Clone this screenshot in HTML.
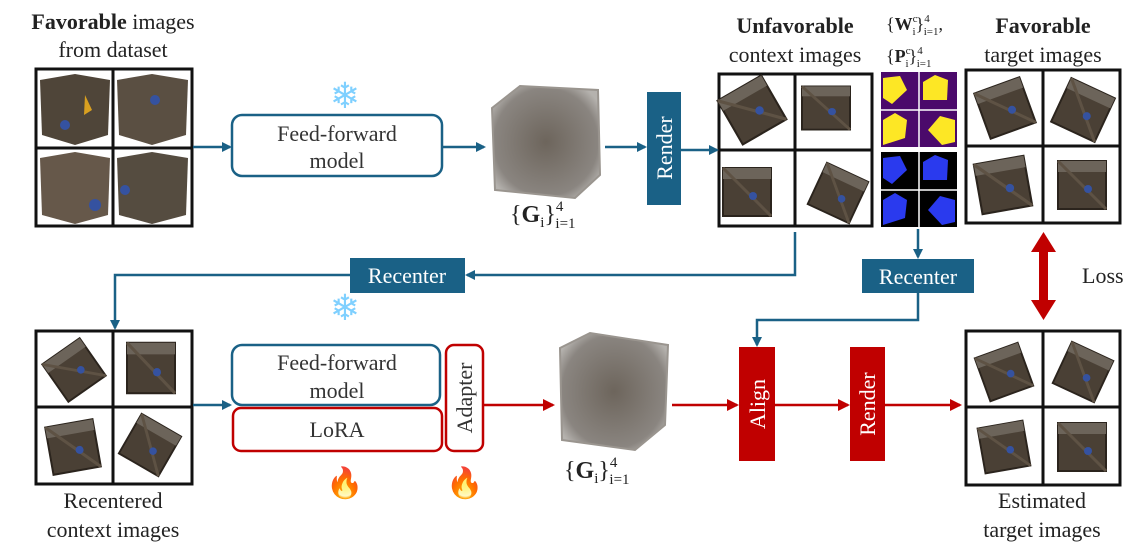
<!DOCTYPE html>
<html><head><meta charset="utf-8"><style>
html,body{margin:0;padding:0;background:#fff;}
svg{display:block;font-family:"Liberation Serif",serif;}
</style></head><body>
<svg width="1142" height="560" viewBox="0 0 1142 560" xmlns="http://www.w3.org/2000/svg">
<defs>
<marker id="ab" markerWidth="10" markerHeight="10" refX="8" refY="5" orient="auto" markerUnits="userSpaceOnUse"><path d="M0,0 L10,5 L0,10 z" fill="#1a6186"/></marker>
<marker id="ar" markerWidth="12" markerHeight="12" refX="10" refY="6" orient="auto" markerUnits="userSpaceOnUse"><path d="M0,0 L12,6 L0,12 z" fill="#c00000"/></marker>
<radialGradient id="gs" cx="50%" cy="50%" r="60%"><stop offset="0" stop-color="#6d655c"/><stop offset="0.8" stop-color="#8a8580"/><stop offset="1" stop-color="#b5b2ae"/></radialGradient>
<g id="cube"><rect x="-24" y="-24" width="48" height="48" fill="#4a4035" stroke="#2b241d" stroke-width="2"/><rect x="-24" y="-24" width="48" height="11" fill="#6c645a"/><line x1="-24" y1="-24" x2="24" y2="24" stroke="#5e5244" stroke-width="3"/><circle cx="6" cy="4" r="4" fill="#3552a0"/></g>
</defs>

<g fill="#222" font-size="22" text-anchor="middle">
<text x="113" y="29"><tspan font-weight="bold">Favorable</tspan> images</text>
<text x="113" y="57">from dataset</text>
<text x="795" y="33" font-weight="bold">Unfavorable</text>
<text x="795" y="62">context images</text>
<text x="1043" y="33" font-weight="bold">Favorable</text>
<text x="1043" y="62">target images</text>
<text x="113" y="508">Recentered</text>
<text x="113" y="537">context images</text>
<text x="1042" y="508">Estimated</text>
<text x="1042" y="537">target images</text>
<text x="1082" y="283" text-anchor="start">Loss</text>
</g>
<g fill="#222" font-size="18">
<text x="886" y="30">{<tspan font-weight="bold">W</tspan><tspan font-size="11" dy="-8">c</tspan><tspan font-size="11" dx="-5" dy="13">i</tspan><tspan dy="-5">}</tspan><tspan font-size="11" dy="-8">4</tspan><tspan font-size="11" dx="-6" dy="13">i=1</tspan><tspan dy="-5">,</tspan></text>
<text x="886" y="62">{<tspan font-weight="bold">P</tspan><tspan font-size="11" dy="-8">c</tspan><tspan font-size="11" dx="-5" dy="13">i</tspan><tspan dy="-5">}</tspan><tspan font-size="11" dy="-8">4</tspan><tspan font-size="11" dx="-6" dy="13">i=1</tspan></text>
</g>
<g fill="#222" font-size="24">
<text x="510" y="222">{<tspan font-weight="bold">G</tspan><tspan font-size="15" dy="5">i</tspan><tspan dy="-5">}</tspan><tspan font-size="15" dy="-11">4</tspan><tspan font-size="15" dx="-8" dy="17">i=1</tspan></text>
<text x="564" y="478">{<tspan font-weight="bold">G</tspan><tspan font-size="15" dy="5">i</tspan><tspan dy="-5">}</tspan><tspan font-size="15" dy="-11">4</tspan><tspan font-size="15" dx="-8" dy="17">i=1</tspan></text>
</g>

<g stroke="#111" stroke-width="3" fill="#fff">
<rect x="36" y="69" width="156" height="157"/>
<rect x="719" y="74" width="153" height="152"/>
<rect x="966" y="70" width="154" height="153"/>
<rect x="36" y="331" width="156" height="153"/>
<rect x="966" y="331" width="154" height="154"/>
</g>
<g>
<path d="M40,80 L75,74 L110,80 L108,135 L75,145 L42,135z" fill="#4f4539"/>
<path d="M117,80 L152,74 L188,80 L186,135 L152,145 L119,135z" fill="#5a4f42"/>
<path d="M40,158 L75,152 L110,158 L108,215 L75,224 L42,215z" fill="#66584a"/>
<path d="M117,158 L152,152 L188,158 L186,215 L152,224 L119,215z" fill="#554c40"/>
<circle cx="65" cy="125" r="5" fill="#3552a0"/><circle cx="155" cy="100" r="5" fill="#3552a0"/><circle cx="95" cy="205" r="6" fill="#3552a0"/><circle cx="125" cy="190" r="5" fill="#3552a0"/>
<path d="M85,95 L92,110 L84,115 z" fill="#d9a020"/>
</g>
<g>
<use href="#cube" transform="translate(752,110) rotate(-30) scale(1.05)"/>
<use href="#cube" transform="translate(826,108) scale(1.0,0.9)"/>
<use href="#cube" transform="translate(747,192) scale(1.0)"/>
<use href="#cube" transform="translate(838,193) rotate(25) scale(0.95)"/>
<use href="#cube" transform="translate(1005,108) rotate(-20) scale(1.0)"/>
<use href="#cube" transform="translate(1083,110) rotate(25) scale(1.0)"/>
<use href="#cube" transform="translate(1003,185) rotate(-10) scale(1.05)"/>
<use href="#cube" transform="translate(1082,185) scale(1.0)"/>
<use href="#cube" transform="translate(74,370) rotate(-35) scale(0.95)"/>
<use href="#cube" transform="translate(151,368) scale(1.0,1.05)"/>
<use href="#cube" transform="translate(73,447) rotate(-10) scale(1.0)"/>
<use href="#cube" transform="translate(150,445) rotate(30) scale(0.95)"/>
<use href="#cube" transform="translate(1004,372) rotate(-20) scale(0.95)"/>
<use href="#cube" transform="translate(1083,372) rotate(25) scale(0.95)"/>
<use href="#cube" transform="translate(1004,447) rotate(-10) scale(0.95)"/>
<use href="#cube" transform="translate(1082,447) scale(1.0)"/>
</g>
<g stroke="#111" stroke-width="3">
<line x1="113" y1="69" x2="113" y2="226"/><line x1="36" y1="148" x2="192" y2="148"/>
<line x1="795" y1="74" x2="795" y2="226"/><line x1="719" y1="150" x2="872" y2="150"/>
<line x1="1043" y1="70" x2="1043" y2="223"/><line x1="966" y1="146" x2="1120" y2="146"/>
<line x1="113" y1="331" x2="113" y2="484"/><line x1="36" y1="407" x2="192" y2="407"/>
<line x1="1043" y1="331" x2="1043" y2="485"/><line x1="966" y1="407" x2="1120" y2="407"/>
</g>
<rect x="881" y="72" width="76" height="75" fill="#4b0a6b"/>
<rect x="881" y="152" width="76" height="75" fill="#000"/>
<g stroke="#fff" stroke-width="1.5"><line x1="919" y1="72" x2="919" y2="227"/><line x1="881" y1="110" x2="957" y2="110"/><line x1="881" y1="190" x2="957" y2="190"/></g>
<g fill="#fde725"><path d="M883,78 L900,76 L907,90 L892,104 L883,98z"/><path d="M923,82 L935,75 L948,80 L947,100 L923,100z"/><path d="M883,120 L895,113 L907,120 L905,138 L883,145z"/><path d="M928,130 L940,116 L955,120 L955,142 L942,145z"/></g>
<g fill="#2a3aee"><path d="M883,158 L900,156 L907,170 L892,184 L883,178z"/><path d="M923,162 L935,155 L948,160 L947,180 L923,180z"/><path d="M883,200 L895,193 L907,200 L905,218 L883,225z"/><path d="M928,210 L940,196 L955,200 L955,222 L942,225z"/></g>

<path d="M492,108 L520,86 L598,90 L600,175 L575,198 L495,190 z" fill="url(#gs)" stroke="#9a958f" stroke-width="2"/>
<path d="M560,348 L590,333 L668,345 L665,425 L635,450 L562,440 z" fill="url(#gs)" stroke="#9a958f" stroke-width="2"/>

<rect x="232" y="115" width="210" height="61" rx="10" fill="#fff" stroke="#1a6186" stroke-width="2.5"/>
<g fill="#333" font-size="22" text-anchor="middle"><text x="337" y="141">Feed-forward</text><text x="337" y="168">model</text></g>
<rect x="647" y="92" width="34" height="113" fill="#1a6186"/>
<text transform="translate(672,148) rotate(-90)" fill="#fff" font-size="22" text-anchor="middle">Render</text>
<text x="345" y="108" font-size="36" text-anchor="middle" fill="#7fd0ff">❄</text>
<text x="345" y="320" font-size="36" text-anchor="middle" fill="#7fd0ff">❄</text>

<g stroke="#1a6186" stroke-width="2.5" fill="none">
<line x1="193" y1="147" x2="230" y2="147" marker-end="url(#ab)"/>
<line x1="442" y1="147" x2="484" y2="147" marker-end="url(#ab)"/>
<line x1="605" y1="147" x2="645" y2="147" marker-end="url(#ab)"/>
<line x1="681" y1="150" x2="717" y2="150" marker-end="url(#ab)"/>
<polyline points="795,232 795,275 467,275" marker-end="url(#ab)"/>
<polyline points="350,275 115,275 115,328" marker-end="url(#ab)"/>
<line x1="918" y1="229" x2="918" y2="257" marker-end="url(#ab)"/>
<polyline points="918,293 918,320 757,320 757,345" marker-end="url(#ab)"/>
<line x1="193" y1="405" x2="230" y2="405" marker-end="url(#ab)"/>
</g>
<rect x="350" y="258" width="115" height="35" fill="#1a6186"/>
<text x="407" y="283" fill="#fff" font-size="22" text-anchor="middle">Recenter</text>
<rect x="862" y="259" width="112" height="34" fill="#1a6186"/>
<text x="918" y="284" fill="#fff" font-size="22" text-anchor="middle">Recenter</text>

<rect x="232" y="345" width="208" height="60" rx="10" fill="#fff" stroke="#1a6186" stroke-width="2.5"/>
<g fill="#333" font-size="22" text-anchor="middle"><text x="337" y="370">Feed-forward</text><text x="337" y="398">model</text><text x="337" y="437">LoRA</text></g>
<rect x="233" y="408" width="209" height="43" rx="8" fill="none" stroke="#c00000" stroke-width="2.5"/>
<rect x="446" y="345" width="37" height="106" rx="8" fill="#fff" stroke="#c00000" stroke-width="2.5"/>
<text transform="translate(472,398) rotate(-90)" fill="#333" font-size="22" text-anchor="middle">Adapter</text>
<text x="345" y="493" font-size="30" text-anchor="middle" fill="#ff5a10">🔥</text>
<text x="465" y="493" font-size="30" text-anchor="middle" fill="#ff5a10">🔥</text>

<g stroke="#c00000" stroke-width="2.5" fill="none">
<line x1="484" y1="405" x2="553" y2="405" marker-end="url(#ar)"/>
<line x1="672" y1="405" x2="737" y2="405" marker-end="url(#ar)"/>
<line x1="775" y1="405" x2="848" y2="405" marker-end="url(#ar)"/>
<line x1="885" y1="405" x2="960" y2="405" marker-end="url(#ar)"/>
</g>
<rect x="739" y="347" width="36" height="114" fill="#c00000"/>
<text transform="translate(765,404) rotate(-90)" fill="#fff" font-size="22" text-anchor="middle">Align</text>
<rect x="850" y="347" width="35" height="114" fill="#c00000"/>
<text transform="translate(875,404) rotate(-90)" fill="#fff" font-size="22" text-anchor="middle">Render</text>

<rect x="1039" y="250" width="9" height="52" fill="#c00000"/>
<path d="M1031,252 L1043.5,232 L1056,252z M1031,300 L1043.5,320 L1056,300z" fill="#c00000"/>
</svg>
</body></html>
